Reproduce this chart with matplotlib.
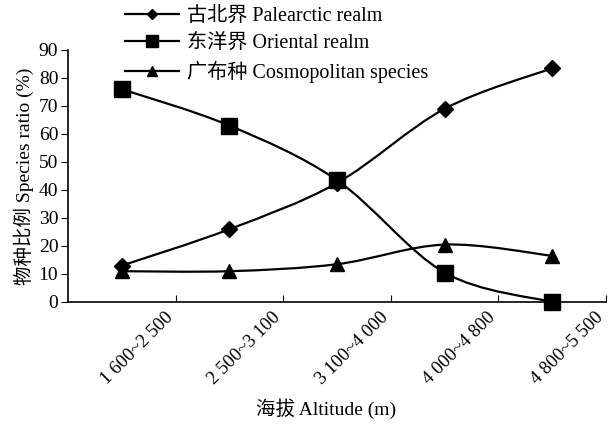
import matplotlib
matplotlib.use('Agg')
import matplotlib.pyplot as plt
from matplotlib.path import Path
from matplotlib.patches import PathPatch
from matplotlib.lines import Line2D

fams = ['Liberation Serif', 'Noto Sans CJK SC']
plt.rcParams['font.family'] = fams

altitudes = ['1 600~2 500', '2 500~3 100', '3 100~4 000', '4 000~4 800', '4 800~5 500']
palearctic = [13, 26, 42.5, 69, 83.5]
oriental = [76, 63, 43.5, 10.5, 0]
cosmo = [11, 11, 13.5, 20.5, 16.5]
names = ['古北界 Palearctic realm', '东洋界 Oriental realm', '广布种 Cosmopolitan species']
markers = ['D', 's', '^']
msizes = [8, 11, 10]
leg_msizes = [5.5, 8, 7]

xs = [i + 0.5 for i in range(len(altitudes))]


def smooth_path(x, y):
    # catmull-rom style bezier, like excel's smoothed line
    n = len(x)
    verts = [(x[0], y[0])]
    codes = [Path.MOVETO]
    for i in range(n - 1):
        p0 = max(i - 1, 0)
        p3 = min(i + 2, n - 1)
        c1 = (x[i] + (x[i + 1] - x[p0]) / 6, y[i] + (y[i + 1] - y[p0]) / 6)
        c2 = (x[i + 1] - (x[p3] - x[i]) / 6, y[i + 1] - (y[p3] - y[i]) / 6)
        verts += [c1, c2, (x[i + 1], y[i + 1])]
        codes += [Path.CURVE4] * 3
    return Path(verts, codes)


fig = plt.figure(figsize=(6.08, 4.32), dpi=100)
ax = fig.add_axes([68 / 608, 1 - 302 / 432, 538 / 608, 252 / 432])

handles = []
for vals, mk, ms, lms in zip([palearctic, oriental, cosmo], markers, msizes, leg_msizes):
    ax.add_patch(PathPatch(smooth_path(xs, vals), fill=False, ec='black', lw=1.6))
    ax.plot(xs, vals, ls='none', marker=mk, ms=ms, color='black', clip_on=False)
    handles.append(Line2D([], [], color='black', lw=1.6, marker=mk, ms=lms))

ax.set_xlim(0, 5)
ax.set_ylim(0, 90)
ax.set_yticks(range(0, 91, 10))
# tick marks at the category edges, labels nudged a little left of them
ax.set_xticks(range(1, 6), [''] * 5)
ax.set_xticks([k - 0.05 for k in range(1, 6)], altitudes, minor=True)
ax.tick_params(axis='x', which='major', direction='in', length=5)
ax.tick_params(axis='x', which='minor', length=0, pad=9, labelsize=13.5)
for lab in ax.get_xticklabels(minor=True):
    lab.set(rotation=45, ha='right', va='center', rotation_mode='anchor')
ax.tick_params(axis='y', direction='out', length=5, labelsize=14, pad=2)
for s in ['top', 'right']:
    ax.spines[s].set_visible(False)
for s in ['left', 'bottom']:
    ax.spines[s].set_linewidth(1.2)

ax.set_xlabel('海拔 Altitude (m)', fontsize=14, labelpad=8, x=0.48)
ax.set_ylabel('物种比例 Species ratio (%)', fontsize=14, labelpad=3)

fig.legend(handles, names, loc='upper left', bbox_to_anchor=(125 / 608, 1 - 7 / 432),
           frameon=False, fontsize=14.5, handlelength=2.7, labelspacing=0.38,
           borderpad=0, borderaxespad=0, handletextpad=0.4)

fig.savefig('out.png', dpi=100)
